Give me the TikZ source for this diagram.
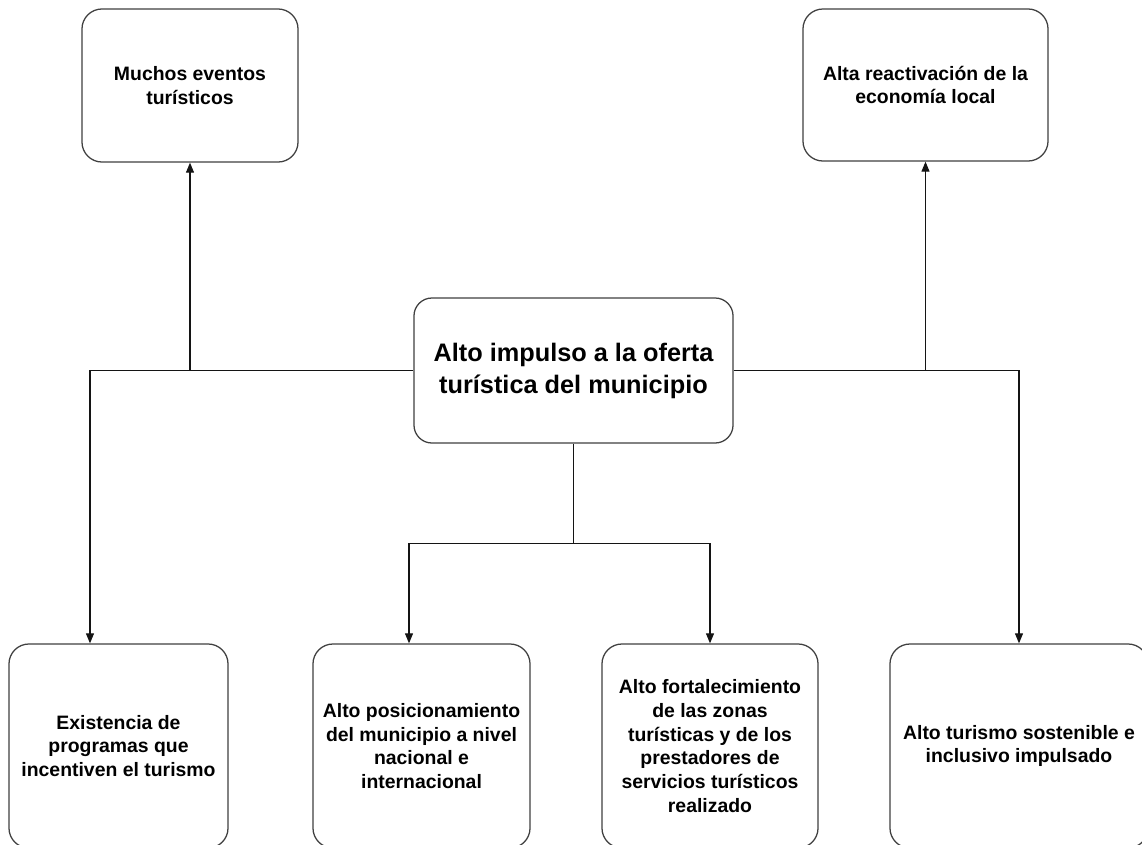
\documentclass[tikz,border=0pt]{standalone}
\usepackage{fontspec}
\setmainfont{Liberation Sans}
\usetikzlibrary{arrows.meta,positioning}
\definecolor{boxline}{RGB}{64,64,64}
\definecolor{linkline}{RGB}{20,20,20}

\begin{document}
\begin{tikzpicture}[
        x=0.025cm, y=-0.025cm,
        box/.style={
            rectangle,
            rounded corners=0.5cm,
            draw=boxline,
            line width=0.9pt,
            fill=white,
            text=black,
            font=\fontsize{13.8}{17}\selectfont\bfseries,
            align=center,
            inner sep=0pt
        },
        mainbox/.style={
            box,
            rounded corners=0.45cm,
            font=\fontsize{18}{22.7}\selectfont\bfseries
        },
        arrow/.style={
            -{Triangle[length=0.25cm,width=0.2cm]},
            color=linkline,
            line width=0.75pt
        }
    ]
    \useasboundingbox (0,0) rectangle (1142,844);
    \clip (0,0) rectangle (1142,844);

    % central problem box
    \node[mainbox, minimum width=7.975cm, minimum height=3.625cm] (impulso) at (573.5,370.5)
        {Alto impulso a la oferta\\turística del municipio};

    % effects at the top
    \node[box, minimum width=5.4cm, minimum height=3.825cm] (muchos) at (190,85.5)
        {Muchos eventos\\turísticos};
    \node[box, minimum width=6.125cm, minimum height=3.8cm] (reactiv) at (925.5,85)
        {Alta reactivación de la\\economía local};

    % results at the bottom
    \node[box, minimum width=5.475cm, minimum height=5.1cm] (existencia) at (118.5,746)
        {Existencia de\\programas que\\incentiven el turismo};
    \node[box, minimum width=5.425cm, minimum height=5.1cm] (posicion) at (421.5,746)
        {Alto posicionamiento\\del municipio a nivel\\nacional e\\internacional};
    \node[box, minimum width=5.4cm, minimum height=5.1cm] (fortal) at (710,746)
        {Alto fortalecimiento\\de las zonas\\turísticas y de los\\prestadores de\\servicios turísticos\\realizado};
    \node[box, minimum width=6.45cm, minimum height=5.1cm] (sosten) at (1019,746)
        {Alto turismo sostenible e\\inclusivo impulsado};

    % junctions of the connectors
    \coordinate (jleft) at (190,370.5);
    \coordinate (jright) at (925.5,370.5);
    \coordinate (jdown) at ([yshift=-2.5cm]impulso.south);

    % connectors
    \draw[arrow] (impulso.west) -| ([xshift=-0.7125cm]existencia.north);
    \draw[arrow] (jleft) -- (muchos.south);
    \draw[arrow] (impulso.east) -| (sosten.north);
    \draw[arrow] (jright) -- (reactiv.south);
    \draw[linkline, line width=0.75pt] (impulso.south) -- (jdown);
    \draw[arrow] (jdown) -| ([xshift=-0.3125cm]posicion.north);
    \draw[arrow] (jdown) -| (fortal.north);

\end{tikzpicture}
\end{document}
